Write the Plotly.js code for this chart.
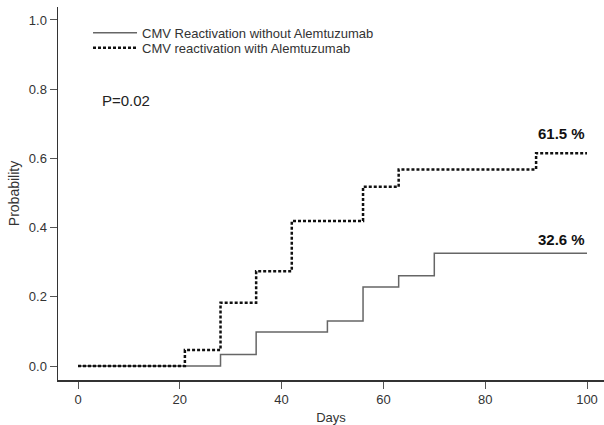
<!DOCTYPE html>
<html>
<head>
<meta charset="utf-8">
<script src="https://cdn.plot.ly/plotly-3.0.1.min.js"></script>
<style>html,body{margin:0;padding:0;background:#fff;}</style>
</head>
<body>
<div id="chart" style="width:604px;height:425px;"></div>
<script>
// Data
const seriesNames = ["CMV Reactivation without Alemtuzumab", "CMV reactivation with Alemtuzumab"];
const daysWithout = [0, 28, 35, 49, 56, 63, 70, 100];
const probWithout = [0, 0.033, 0.098, 0.13, 0.228, 0.261, 0.326, 0.326];
const daysWith = [0, 21, 28, 35, 42, 56, 63, 90, 100];
const probWith = [0, 0.046, 0.183, 0.274, 0.419, 0.518, 0.568, 0.615, 0.615];
const xTicks = [0, 20, 40, 60, 80, 100];
const yTicks = [0, 0.2, 0.4, 0.6, 0.8, 1.0];
const pValueText = "P=0.02";

const FONT = "Liberation Sans, Arial, sans-serif";

const traces = [
  {
    x: daysWithout, y: probWithout, type: "scatter", mode: "lines",
    name: seriesNames[0], legend: "legend",
    line: {shape: "hv", color: "#666666", width: 1.5}
  },
  {
    x: daysWith, y: probWith, type: "scatter", mode: "lines",
    name: seriesNames[1], legend: "legend2",
    line: {shape: "hv", color: "#111111", width: 2.5, dash: "3px,2px"}
  }
];

function pct(v) { return (v * 100).toFixed(1) + " %"; }

const legendBase = {
  xanchor: "left", yanchor: "top",
  bgcolor: "rgba(0,0,0,0)", borderwidth: 0,
  itemwidth: 44,
  font: {family: FONT, size: 13, color: "#333333"}
};

const layout = {
  width: 604, height: 425,
  margin: {l: 58, r: 0, t: 7, b: 45},
  paper_bgcolor: "#ffffff", plot_bgcolor: "#ffffff",
  font: {family: FONT, size: 13, color: "#333333"},
  showlegend: true,
  legend: Object.assign({}, legendBase, {x: 0.055, y: 0.971}),
  legend2: Object.assign({}, legendBase, {x: 0.055, y: 0.931}),
  xaxis: {
    range: [-3.93, 103.34],
    tickvals: xTicks, ticktext: xTicks.map(String),
    showgrid: false, zeroline: false,
    showline: true, linecolor: "#333333", linewidth: 1.5,
    ticks: "outside", ticklen: 7, tickcolor: "#555555", tickwidth: 1,
    tickfont: {family: FONT, size: 13, color: "#333333"},
    title: {text: "Days", font: {family: FONT, size: 13, color: "#333333"}, standoff: 8}
  },
  yaxis: {
    range: [-0.0404, 1.0375],
    tickvals: yTicks, ticktext: yTicks.map(v => v.toFixed(1)),
    showgrid: false, zeroline: false,
    showline: true, linecolor: "#333333", linewidth: 1.5,
    ticks: "outside", ticklen: 7, tickcolor: "#555555", tickwidth: 1,
    tickfont: {family: FONT, size: 13, color: "#333333"},
    title: {text: "Probability", font: {family: FONT, size: 14, color: "#333333"}, standoff: 6}
  },
  annotations: [
    {
      x: 4.3, y: 0.768, xref: "x", yref: "y", xanchor: "left", yanchor: "middle",
      text: pValueText, showarrow: false,
      font: {family: FONT, size: 15, color: "#222222"}
    },
    {
      x: daysWith[daysWith.length - 1], y: probWith[probWith.length - 1] + 0.057,
      xref: "x", yref: "y", xanchor: "right", yanchor: "middle",
      text: "<b>" + pct(probWith[probWith.length - 1]) + "</b>", showarrow: false,
      font: {family: FONT, size: 15, color: "#111111"}
    },
    {
      x: daysWithout[daysWithout.length - 1], y: probWithout[probWithout.length - 1] + 0.041,
      xref: "x", yref: "y", xanchor: "right", yanchor: "middle",
      text: "<b>" + pct(probWithout[probWithout.length - 1]) + "</b>", showarrow: false,
      font: {family: FONT, size: 15, color: "#111111"}
    }
  ]
};

Plotly.newPlot("chart", traces, layout, {displayModeBar: false, staticPlot: true});
</script>
</body>
</html>
